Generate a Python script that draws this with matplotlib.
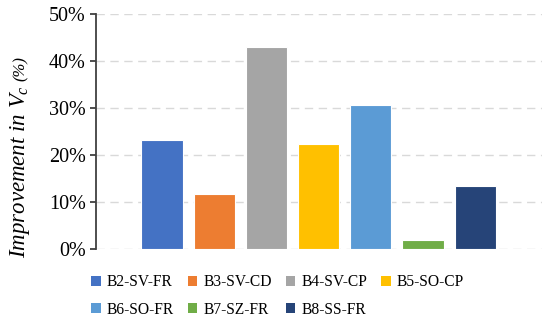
import numpy as np
import matplotlib.pyplot as plt
from matplotlib.patches import Patch

# Data
labels = ['B2-SV-FR', 'B3-SV-CD', 'B4-SV-CP', 'B5-SO-CP', 'B6-SO-FR', 'B7-SZ-FR', 'B8-SS-FR']
improvement = [23.2, 11.7, 43.1, 22.4, 30.7, 1.9, 13.5]  # percent
colors = ['#4472C4', '#ED7D31', '#A5A5A5', '#FFC000', '#5B9BD5', '#70AD47', '#264478']

plt.rcParams['font.family'] = ['Liberation Serif', 'DejaVu Serif']
plt.rcParams['mathtext.fontset'] = 'custom'
plt.rcParams['mathtext.rm'] = 'Liberation Serif'
plt.rcParams['mathtext.it'] = 'Liberation Serif:italic'

fig = plt.figure(figsize=(5.5, 3.23), dpi=100)
ax = fig.add_axes([0.174, 0.229, 0.811, 0.727])

x = np.arange(len(labels))
ax.bar(x, improvement, width=0.79, color=colors, edgecolor='white', linewidth=0.8, zorder=3)

ax.set_xlim(-1.27, len(labels) - 1 + 1.275)
ax.set_ylim(0, 50)
ax.set_yticks(np.arange(0, 51, 10))
ax.set_yticklabels([f'{v}%' for v in range(0, 51, 10)], fontsize=14.5)
ax.set_xticks([])

ax.grid(axis='y', color='#D9D9D9', linestyle=(0, (6, 4)), linewidth=1, zorder=0)
for s in ['top', 'right', 'bottom']:
    ax.spines[s].set_visible(False)
ax.spines['left'].set_color('#404040')
ax.spines['left'].set_linewidth(1.3)
ax.tick_params(axis='y', direction='out', length=4, width=1.3, color='#404040', pad=3)

# y label: main part larger, "(%)" smaller, as in the original
lab1 = fig.text(0.037, 1 - 258 / 323, 'Improvement in $V_c$', rotation=90,
                fontsize=16.5, fontstyle='italic', ha='center', va='bottom')
fig.canvas.draw()
bb = lab1.get_window_extent()
lab2 = fig.text(0.037, (bb.y1 + 4) / fig.bbox.height, '(%)', rotation=90,
                fontsize=12, fontstyle='italic', ha='center', va='bottom')

# legend filled row by row: 4 on first row, 3 on second
handles = [Patch(facecolor=c, edgecolor='none') for c in colors]
order = [0, 4, 1, 5, 2, 6, 3]
fig.legend([handles[i] for i in order], [labels[i] for i in order],
           loc='upper center', bbox_to_anchor=(0.505, 0.18), ncol=4, frameon=False,
           fontsize=11.2, handlelength=0.6, handleheight=0.6, handletextpad=0.4,
           columnspacing=0.9, labelspacing=0.75, borderpad=0.1)

fig.savefig('out.png', dpi=100)
